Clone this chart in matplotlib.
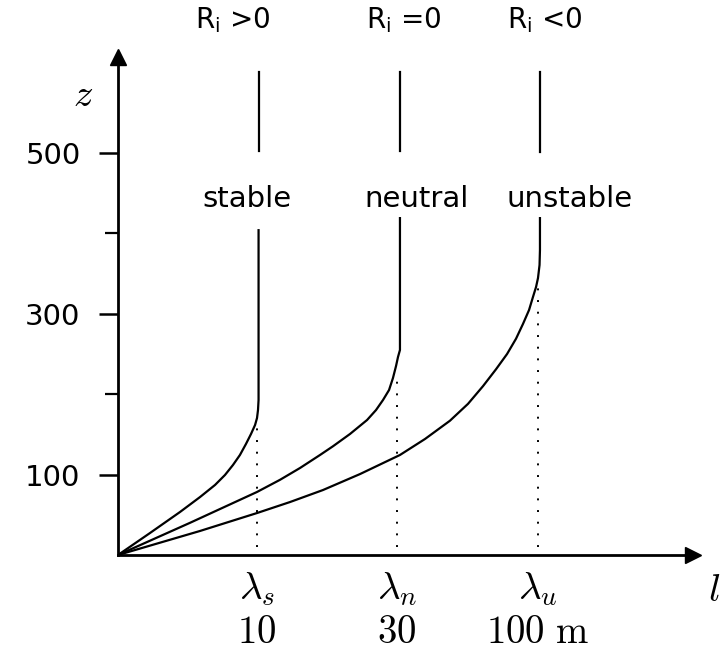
import numpy as np
import matplotlib
matplotlib.use("Agg")
import matplotlib.pyplot as plt

plt.rcParams['mathtext.fontset'] = 'cm'
plt.rcParams['font.family'] = ['DejaVu Sans']

# profiles (x in tick units, z in m)
stable_x = [0.0, 0.229, 0.443, 0.586, 0.693, 0.764, 0.821, 0.871, 0.914, 0.95,
            0.979, 0.993, 1.0, 1.004, 1.004]
stable_z = [0.0, 27.4, 53.5, 72.1, 87.1, 99.5, 111.9, 124.4, 138.1, 150.5,
            161.7, 170.4, 180.3, 192.8, 404.0]

neutral_x = [0.0, 0.514, 0.993, 1.157, 1.3, 1.443, 1.536, 1.657, 1.779, 1.843,
             1.893, 1.936, 1.964, 1.986, 2.0, 2.014, 2.014]
neutral_z = [0.0, 40.0, 78.4, 93.5, 108.2, 124.4, 135.3, 150.5, 167.9, 180.3,
             192.8, 205.2, 220.1, 235.1, 246.3, 255.0, 419.0]

unstable_x = [0.0, 0.586, 0.993, 1.229, 1.464, 1.729, 2.014, 2.193, 2.371, 2.5,
              2.607, 2.7, 2.779, 2.843, 2.893, 2.936, 2.964, 2.986, 3.0, 3.011,
              3.014, 3.014]
unstable_z = [0.0, 29.9, 52.2, 65.9, 80.8, 100.7, 124.4, 144.3, 167.0, 188.0,
              210.0, 231.0, 250.0, 269.0, 287.5, 304.7, 320.9, 333.3, 344.5, 360.7,
              379.4, 419.0]

# upper vertical pieces above the labels
upper_x = [1.01, 2.014, 3.014]
upper_lo = [502.5, 502.5, 501.2]
upper_hi = [600.7, 600.7, 600.7]

# dotted drops to the axis
lam_x = [0.993, 1.993, 3.0]
lam_top = [170.4, 220.1, 344.5]
lam_labels = ['$\\lambda_s$\n$10$', '$\\lambda_n$\n$30$', '$\\lambda_u$\n$100\\ \\mathrm{m}$']

ri_labels = ['R$_\\mathrm{i}$ >0', 'R$_\\mathrm{i}$ =0', 'R$_\\mathrm{i}$ <0']
ri_x = [0.82, 2.04, 3.05]
regime_labels = ['stable', 'neutral', 'unstable']
regime_x = [0.92, 2.13, 3.225]

z_major = [100, 300, 500]
z_minor = [200, 400]

fig = plt.figure(figsize=(7.22, 6.59), dpi=100)
ax = fig.add_axes([118/722, (659-555)/659, (693-118)/722, (555-57)/659])
ax.set_xlim(0, (693-118)/140)
ax.set_ylim(0, (555-57)/0.804)

for sp in ['top', 'right']:
    ax.spines[sp].set_visible(False)
for sp in ['left', 'bottom']:
    ax.spines[sp].set_linewidth(2.0)

# axis arrows
ax.plot(1, 0, '>k', markersize=11, transform=ax.transAxes, clip_on=False)
ax.plot(0, 1, '^k', markersize=11, transform=ax.transAxes, clip_on=False)

lw = 1.6
ax.plot(stable_x, stable_z, color='black', lw=lw)
ax.plot(neutral_x, neutral_z, color='black', lw=lw)
ax.plot(unstable_x, unstable_z, color='black', lw=lw)
for x, lo, hi in zip(upper_x, upper_lo, upper_hi):
    ax.plot([x, x], [lo, hi], color='black', lw=lw)
for x, top in zip(lam_x, lam_top):
    ax.plot([x, x], [10, top], color='black', lw=1.4, linestyle=(0, (1, 5)))

ax.set_yticks(z_major, [str(v) for v in z_major])
ax.set_yticks(z_minor, minor=True)
ax.tick_params(axis='y', which='major', direction='out', length=14, width=1.8,
               pad=13, labelsize=21)
ax.tick_params(axis='y', which='minor', direction='out', length=9.5, width=1.6)

ax.set_xticks(lam_x, lam_labels)
ax.tick_params(axis='x', length=0, pad=11, labelsize=28)
for lab in ax.get_xticklabels():
    lab.set_linespacing(1.15)

for x, s in zip(ri_x, ri_labels):
    ax.text(x, 655, s, fontsize=20, ha='center', va='baseline',
            math_fontfamily='dejavusans', clip_on=False)
for x, s in zip(regime_x, regime_labels):
    ax.text(x, 433, s, fontsize=21, ha='center', va='baseline')

ax.text(-0.25, 572, '$z$', fontsize=28, ha='center', va='center', clip_on=False)
ax.text(4.3, -44, '$l$', fontsize=28, ha='right', va='center', clip_on=False)

fig.savefig('out.png', dpi=100)
